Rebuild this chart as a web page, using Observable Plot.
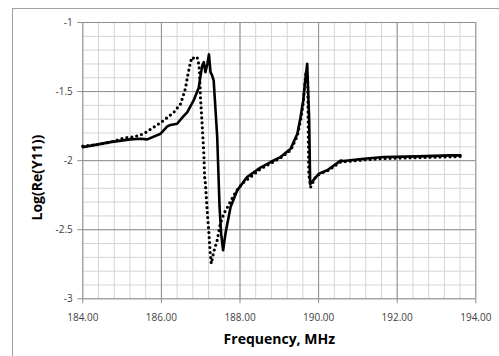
<!DOCTYPE html>
<html><head><meta charset="utf-8">
<script src="https://cdn.jsdelivr.net/npm/d3@7"></script>
<script src="https://cdn.jsdelivr.net/npm/@observablehq/plot@0.6"></script>
<style>
html,body{margin:0;padding:0;background:#fff;}
#chart{position:relative;width:499px;height:356px;overflow:hidden;}
#frame{position:absolute;left:12px;top:8px;width:700px;height:700px;border:1px solid #a0a0a0;box-sizing:border-box;}
#chart svg{position:absolute;left:0;top:0;}
</style></head><body><div id="chart"><div id="frame"></div></div>
<script>
// Solid curve
const solidFreq = [184.00,184.70,185.21,185.47,185.64,185.98,186.15,186.23,186.40,186.53,186.66,186.82,186.95,186.99,187.04,187.08,187.12,187.17,187.21,187.25,187.29,187.33,187.42,187.48,187.52,187.57,187.63,187.76,187.93,188.18,188.52,188.78,189.03,189.29,189.46,189.54,189.61,189.65,189.71,189.76,189.785,189.84,190.01,190.22,190.56,190.64,191.15,191.66,192.51,193.36,193.61];
const solidLog  = [-1.902,-1.866,-1.846,-1.841,-1.846,-1.805,-1.752,-1.742,-1.733,-1.689,-1.648,-1.564,-1.472,-1.395,-1.311,-1.287,-1.359,-1.299,-1.231,-1.359,-1.383,-1.419,-1.829,-2.335,-2.528,-2.649,-2.528,-2.336,-2.215,-2.119,-2.05,-2.01,-1.974,-1.913,-1.805,-1.685,-1.564,-1.443,-1.299,-1.70,-2.17,-2.15,-2.094,-2.07,-2.00,-2.003,-1.986,-1.974,-1.969,-1.962,-1.962];
// Dotted curve
const dottedFreq = [184.00,184.37,184.70,185.04,185.30,185.55,185.81,186.06,186.32,186.49,186.61,186.67,186.74,186.78,186.83,186.91,186.95,186.97,186.99,187.04,187.08,187.10,187.12,187.17,187.21,187.24,187.27,187.33,187.42,187.50,187.59,187.72,187.84,187.97,188.10,188.27,188.52,188.78,189.03,189.29,189.46,189.54,189.61,189.65,189.68,189.72,189.73,189.75,189.80,189.92,190.05,190.22,190.56,191.15,191.66,192.51,193.36,193.61];
const dottedLog  = [-1.894,-1.884,-1.866,-1.836,-1.829,-1.805,-1.757,-1.709,-1.649,-1.588,-1.479,-1.383,-1.287,-1.251,-1.26,-1.251,-1.30,-1.35,-1.516,-1.757,-1.949,-2.118,-2.166,-2.383,-2.528,-2.661,-2.745,-2.661,-2.576,-2.456,-2.383,-2.316,-2.251,-2.195,-2.155,-2.119,-2.06,-2.02,-1.98,-1.925,-1.82,-1.71,-1.58,-1.45,-1.35,-1.40,-1.6,-2.10,-2.19,-2.12,-2.09,-2.075,-2.01,-1.995,-1.984,-1.978,-1.972,-1.97];
const xTicks = [184,186,188,190,192,194];
const yTicks = [-3,-2.5,-2,-1.5,-1];
const xMinor = d3.range(0,26).map(i => 184 + i*0.4);
const yMinor = d3.range(0,21).map(i => -3 + i*0.1);
const xTitle = "Frequency, MHz";
const yTitle = "Log(Re(Y11))";

const solid = solidFreq.map((f,i)=>({f, v: solidLog[i]}));
const dotted = dottedFreq.map((f,i)=>({f, v: dottedLog[i]}));

const plot = Plot.plot({
  width: 499, height: 356,
  marginLeft: 82.3, marginRight: 23.7, marginTop: 22, marginBottom: 57.7,
  style: {fontFamily: "'Open Sans', sans-serif", fontSize: "10px", color: "#404040", background: "transparent"},
  x: {domain: [184,194]},
  y: {domain: [-3,-1]},
  marks: [
    Plot.ruleX(xMinor, {stroke: "#d4d4d4", strokeWidth: 1}),
    Plot.ruleY(yMinor, {stroke: "#d4d4d4", strokeWidth: 1}),
    Plot.ruleX(xTicks, {stroke: "#8e8e8e", strokeWidth: 1}),
    Plot.ruleY(yTicks, {stroke: "#8e8e8e", strokeWidth: 1}),
    Plot.axisX(xTicks, {tickFormat: d => d.toFixed(2), tickSize: 5, tickPadding: 10, stroke: "#8e8e8e", label: null, fill: "#404040"}),
    Plot.axisY(yTicks, {tickFormat: d => String(d), tickSize: 5, tickPadding: 5, stroke: "#8e8e8e", label: null, fill: "#404040"}),
    Plot.line(dotted, {x: "f", y: "v", stroke: "#000", strokeWidth: 3.2, strokeDasharray: "0,5", strokeLinecap: "round"}),
    Plot.line(solid, {x: "f", y: "v", stroke: "#000", strokeWidth: 2.6, strokeLinejoin: "round"}),
    Plot.text([xTitle], {text: d => d, frameAnchor: "bottom", dy: 41, lineAnchor: "middle", textAnchor: "middle", fontWeight: "bold", fontSize: 14, fill: "#000"}),
    Plot.text([yTitle], {text: d => d, frameAnchor: "left", dx: -45, dy: 17, rotate: -90, lineAnchor: "middle", textAnchor: "middle", fontWeight: "bold", fontSize: 14, fill: "#000"})
  ]
});
document.getElementById("chart").appendChild(plot);
</script>
</body></html>
